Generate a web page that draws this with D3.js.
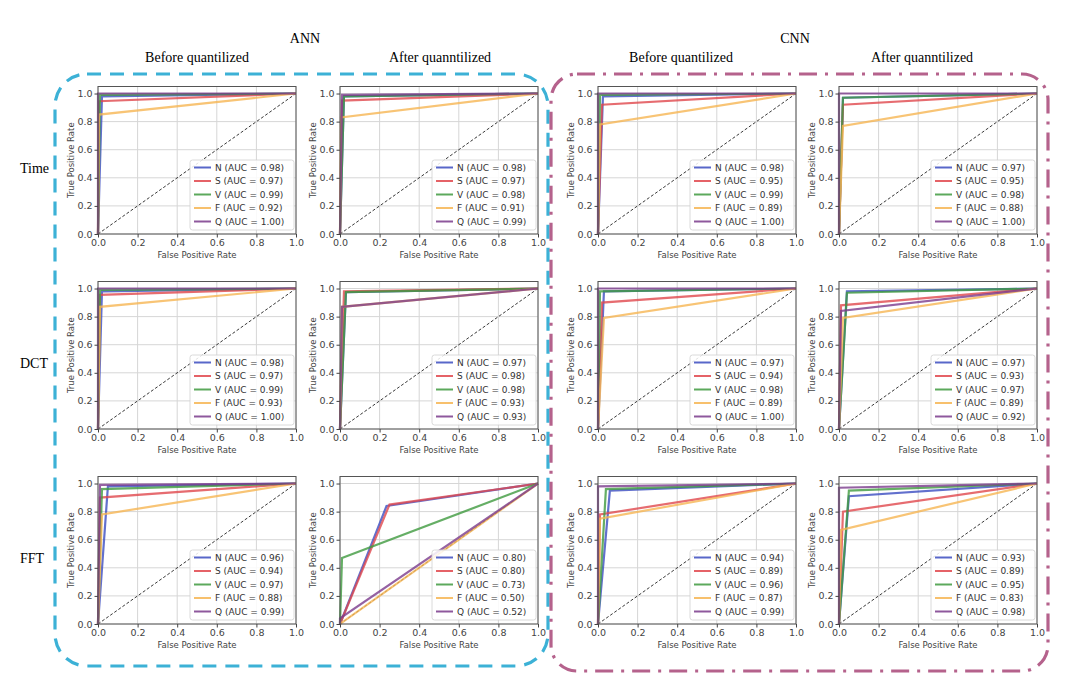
<!DOCTYPE html>
<html lang="en">
<head>
  <meta charset="UTF-8">
  <title>ROC curves ANN / CNN</title>
  <script src="https://d3js.org/d3.v7.min.js"></script>
  <style>
    body { margin: 0; background: #fff; }
    .tick text { font-family: "DejaVu Sans", sans-serif; font-size: 9.5px; fill: #444; }
    .tick line { stroke: #444; }
    .domain { display: none; }
  </style>
</head>
<body>
  <div id="chart"></div>
  <script>
    const classes = ["N", "S", "V", "F", "Q"];
    const classColors = ["#3b4cc0", "#e0474c", "#3f9a3f", "#f6b552", "#7a3b8c"];
    const rowNames = ["Time", "DCT", "FFT"];
    const colTitles = ["Before quantilized", "After quanntilized", "Before quantilized", "After quanntilized"];
    const groupNames = ["ANN", "CNN"];
    const ticks = [0, 0.2, 0.4, 0.6, 0.8, 1.0];

    // AUC shown in each legend, panel order: row by row, left to right
    const aucValues = [
      [0.98, 0.97, 0.99, 0.92, 1.00], [0.98, 0.97, 0.98, 0.91, 0.99], [0.98, 0.95, 0.99, 0.89, 1.00], [0.97, 0.95, 0.98, 0.88, 1.00],
      [0.98, 0.97, 0.99, 0.93, 1.00], [0.97, 0.98, 0.98, 0.93, 0.93], [0.97, 0.94, 0.98, 0.89, 1.00], [0.97, 0.93, 0.97, 0.89, 0.92],
      [0.96, 0.94, 0.97, 0.88, 0.99], [0.80, 0.80, 0.73, 0.50, 0.52], [0.94, 0.89, 0.96, 0.87, 0.99], [0.93, 0.89, 0.95, 0.83, 0.98]
    ];
    // middle point of each curve (0,0) -> (fpr,tpr) -> (1,1)
    const kneeFpr = [
      [0.02, 0.005, 0.01, 0.005, 0], [0.02, 0.01, 0.02, 0.005, 0.01], [0.025, 0.02, 0.01, 0.01, 0], [0.02, 0.02, 0.02, 0.02, 0],
      [0.02, 0.01, 0.01, 0.01, 0], [0.03, 0.02, 0.03, 0.01, 0.01], [0.03, 0.02, 0.01, 0.03, 0], [0.04, 0.01, 0.04, 0.02, 0.01],
      [0.05, 0.01, 0.02, 0.02, 0.01], [0.235, 0.25, 0.01, 0.02, 0.0], [0.06, 0.01, 0.04, 0.01, 0], [0.05, 0.02, 0.05, 0.01, 0]
    ];
    const kneeTpr = [
      [0.98, 0.945, 0.99, 0.85, 1.0], [0.98, 0.95, 0.98, 0.83, 0.99], [0.98, 0.92, 0.99, 0.78, 1.0], [0.97, 0.92, 0.97, 0.77, 1.0],
      [0.98, 0.955, 0.99, 0.87, 1.0], [0.975, 0.98, 0.975, 0.87, 0.87], [0.98, 0.90, 0.98, 0.79, 1.0], [0.98, 0.88, 0.97, 0.79, 0.84],
      [0.98, 0.90, 0.96, 0.78, 0.99], [0.84, 0.85, 0.47, 0.02, 0.04], [0.95, 0.78, 0.96, 0.75, 0.98], [0.91, 0.80, 0.95, 0.67, 0.97]
    ];

    const width = 1073, height = 695;
    const colLeft = [98, 340, 598, 839];
    const titleX = [197, 440, 681, 922];
    const rowBottom = [234, 429, 624];
    const axW = 198, axH = 147.5;

    const svg = d3.select("#chart").append("svg")
      .attr("width", width).attr("height", height);

    // group boxes
    svg.append("rect")
      .attr("x", 55).attr("y", 74).attr("width", 493).attr("height", 592)
      .attr("rx", 32).attr("fill", "none")
      .attr("stroke", "#3cb1d6").attr("stroke-width", 3.2)
      .attr("stroke-dasharray", "14 9");
    svg.append("rect")
      .attr("x", 551).attr("y", 74).attr("width", 497).attr("height", 597)
      .attr("rx", 26).attr("fill", "none")
      .attr("stroke", "#b5628c").attr("stroke-width", 3.2)
      .attr("stroke-dasharray", "18 8 3 8");

    const serif = "'Liberation Serif', 'DejaVu Serif', serif";
    [305, 795].forEach((cx, i) => {
      svg.append("text").attr("x", cx).attr("y", 43)
        .attr("text-anchor", "middle").style("font-family", serif).style("font-size", "14px")
        .text(groupNames[i]);
    });
    colTitles.forEach((t, c) => {
      svg.append("text").attr("x", titleX[c]).attr("y", 62)
        .attr("text-anchor", "middle").style("font-family", serif).style("font-size", "14px")
        .text(t);
    });
    rowNames.forEach((t, r) => {
      svg.append("text").attr("x", 20).attr("y", rowBottom[r] - 61)
        .style("font-family", serif).style("font-size", "14px")
        .text(t);
    });

    const x = d3.scaleLinear().domain([0, 1]).range([0, axW]);
    const y = d3.scaleLinear().domain([0, 1.05]).range([axH, 0]);
    const line = d3.line().x(d => x(d[0])).y(d => y(d[1]));

    for (let r = 0; r < 3; r++) {
      for (let c = 0; c < 4; c++) {
        const p = r * 4 + c;
        const g = svg.append("g")
          .attr("transform", `translate(${colLeft[c]},${rowBottom[r] - axH})`);

        // grid
        g.selectAll(".gx").data(ticks).enter().append("line")
          .attr("x1", d => x(d)).attr("x2", d => x(d)).attr("y1", 0).attr("y2", axH)
          .attr("stroke", "#d6d6d6").attr("stroke-width", 1);
        g.selectAll(".gy").data(ticks).enter().append("line")
          .attr("x1", 0).attr("x2", axW).attr("y1", d => y(d)).attr("y2", d => y(d))
          .attr("stroke", "#d6d6d6").attr("stroke-width", 1);

        // chance line
        g.append("path").attr("d", line([[0, 0], [1, 1]]))
          .attr("stroke", "#222").attr("stroke-width", 0.9)
          .attr("stroke-dasharray", "3 2").attr("fill", "none");

        // ROC curves
        classes.forEach((k, i) => {
          const pts = [[0, 0], [kneeFpr[p][i], kneeTpr[p][i]], [1, 1]];
          g.append("path").attr("d", line(pts))
            .attr("fill", "none").attr("stroke", classColors[i])
            .attr("stroke-width", 2.2).attr("stroke-opacity", 0.8);
        });

        // frame
        g.append("rect").attr("width", axW).attr("height", axH)
          .attr("fill", "none").attr("stroke", "#555").attr("stroke-width", 1);

        g.append("g").attr("transform", `translate(0,${axH})`)
          .call(d3.axisBottom(x).tickValues(ticks).tickFormat(d3.format(".1f")).tickSize(3.5).tickPadding(2));
        g.append("g")
          .call(d3.axisLeft(y).tickValues(ticks).tickFormat(d3.format(".1f")).tickSize(3.5).tickPadding(2));

        g.append("text").attr("x", axW / 2).attr("y", axH + 24)
          .attr("text-anchor", "middle")
          .style("font-family", "'DejaVu Sans', sans-serif").style("font-size", "8.5px").style("fill", "#444")
          .text("False Positive Rate");
        g.append("text")
          .attr("transform", `translate(-24,${axH / 2}) rotate(-90)`)
          .attr("text-anchor", "middle")
          .style("font-family", "'DejaVu Sans', sans-serif").style("font-size", "8.5px").style("fill", "#444")
          .text("True Positive Rate");

        // legend
        const lw = 104, lh = 70;
        const lg = g.append("g").attr("transform", `translate(${axW - lw - 2},${axH - lh - 4})`);
        lg.append("rect").attr("width", lw).attr("height", lh).attr("rx", 2.5)
          .attr("fill", "#fff").attr("fill-opacity", 0.85)
          .attr("stroke", "#d0d0d0").attr("stroke-width", 0.8);
        classes.forEach((k, i) => {
          const yy = 7.5 + i * 13.5;
          lg.append("line").attr("x1", 4).attr("x2", 21).attr("y1", yy).attr("y2", yy)
            .attr("stroke", classColors[i]).attr("stroke-width", 2).attr("stroke-opacity", 0.85);
          lg.append("text").attr("x", 25).attr("y", yy + 3.3)
            .style("font-family", "'DejaVu Sans', sans-serif").style("font-size", "9px").style("fill", "#333")
            .text(`${k} (AUC = ${aucValues[p][i].toFixed(2)})`);
        });
      }
    }
  </script>
</body>
</html>
